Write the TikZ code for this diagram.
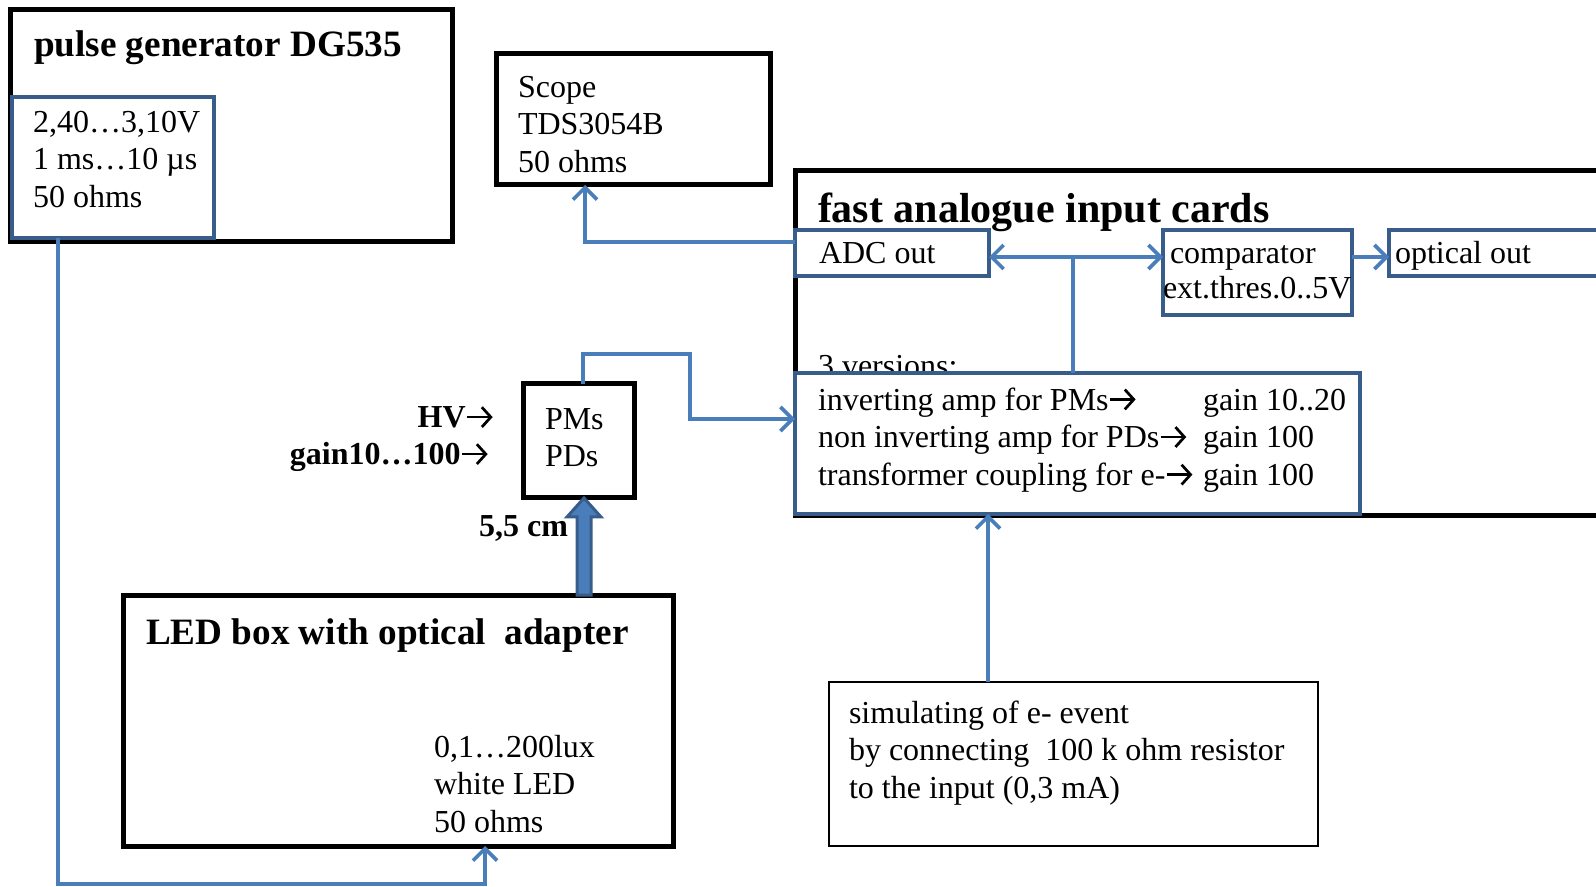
\documentclass[tikz,border=0pt]{standalone}
\usepackage{fontspec}
\setmainfont{Liberation Serif}
\usetikzlibrary{arrows.meta,calc}
\definecolor{boxblue}{RGB}{56,93,138}
\definecolor{lineblue}{RGB}{74,126,187}
\newcommand\myarr{\tikz[baseline=0pt]\draw[line width=0.085em,line cap=butt,-{Straight Barb[length=0.28em,width=0.62em,line width=0.085em]}] (0.04em,0.34em) -- (0.84em,0.34em);}
\tikzset{
  barb/.tip={Straight Barb[length=6pt,width=12pt]},
  blk/.style={draw=black,line width=2.5pt,fill=white,inner sep=0pt,outer sep=0pt,anchor=north west},
  bbox/.style={draw=boxblue,line width=2pt,fill=white,inner sep=0pt,outer sep=0pt,anchor=north west},
  thinbox/.style={draw=black,line width=1pt,fill=white,inner sep=0pt,outer sep=0pt,anchor=north west},
  conn/.style={draw=lineblue,line width=1.8pt},
  body/.style={inner sep=0pt,outer sep=0pt,font=\fontsize{16}{18.8}\selectfont,align=left,anchor=north west},
  oneline/.style={inner sep=0pt,outer sep=0pt,font=\fontsize{16}{18.8}\selectfont,anchor=base west},
  lbl/.style={inner sep=0pt,outer sep=0pt,font=\bfseries\fontsize{16}{18.8}\selectfont,anchor=base east},
  ttl/.style={inner sep=0pt,outer sep=0pt,font=\bfseries\fontsize{18.6}{22}\selectfont,anchor=base west},
  bigttl/.style={inner sep=0pt,outer sep=0pt,font=\bfseries\fontsize{21}{25}\selectfont,anchor=base west}
}
\begin{document}
\begin{tikzpicture}[x=0.5pt,y=-0.5pt]
\useasboundingbox (0,0) rectangle (1596,887);
\clip (0,0) rectangle (1596,887);

% pulse generator
\node[blk,minimum width=221pt,minimum height=116pt] (pg) at (10,10) {};
\node[ttl] (pgT) at (34,57) {pulse generator DG535};
\node[bbox,minimum width=101pt,minimum height=70.5pt] (pgin) at (12,97) {};
\node[body] (pgtx) at (33,106) {\strut 2,40…3,10V\\1 ms…10 µs\\50 ohms};

% scope
\node[blk,minimum width=137pt,minimum height=65.5pt] (scope) at (496,54) {};
\node[body] (scopetx) at (518,71) {\strut Scope\\TDS3054B\\50 ohms};

% fast analogue input cards
\node[blk,minimum width=430pt,minimum height=172.5pt] (fac) at (795,171) {};
\node[bigttl] (facT) at (818,223) {fast analogue input cards};
\node[bbox,minimum width=97pt,minimum height=23pt] (adc) at (795,230) {};
\node[oneline] (adctx) at (819,264) {ADC out};
\node[bbox,minimum width=94.5pt,minimum height=42.5pt] (comp) at (1163,230) {};
\node[oneline] (comptxa) at (1170,264) {comparator};
\node[oneline] (comptxb) at (1163,299) {ext.thres.0..5V};
\node[bbox,minimum width=130pt,minimum height=23pt] (opt) at (1389,230) {};
\node[oneline] (opttx) at (1395,264) {optical out};
\node[oneline] (ver) at (818,377) {3 versions:};
\node[bbox,minimum width=282.5pt,minimum height=70.5pt] (amp) at (795,373) {};
\node[body] (amptx) at (818,384) {\strut inverting amp for PMs\myarr\\non inverting amp for PDs\myarr\\transformer coupling for e-\myarr};
\node[body] (gaintx) at (1203,384) {\strut gain 10..20\\gain 100\\gain 100};

% PMs / PDs
\node[blk,minimum width=55.5pt,minimum height=57pt] (pm) at (523,384) {};
\node[body] (pmtx) at (545,403) {\strut PMs\\PDs};
\node[lbl] (hv) at (494,428) {HV\myarr};
\node[lbl] (gn) at (489,465) {gain10…100\myarr};
\node[lbl] (cm) at (568,537) {5,5 cm};

% LED box
\node[blk,minimum width=275pt,minimum height=125.5pt] (led) at (123,595) {};
\node[ttl] (ledT) at (146,644) {LED box with optical\ \ adapter};
\node[body] (ledtx) at (434,731) {\strut 0,1…200lux\\white LED\\50 ohms};

% simulation box
\node[thinbox,minimum width=244.5pt,minimum height=82pt] (sim) at (829,682) {};
\node[body] (simtx) at (849,697) {\strut simulating of e- event\\by connecting\ \ 100 k ohm resistor\\to the input (0,3 mA)};

% connectors
\coordinate (s1) at (585,242);
\draw[conn,-barb] (adc.west |- s1) -| (scope.south -| s1);

\coordinate (j) at (1073,257);
\draw[conn,barb-barb] (adc.east |- j) -- (comp.west |- j);
\draw[conn] (j) -- (amp.north -| j);
\draw[conn,-barb] (comp.east |- j) -- (opt.west |- j);

\coordinate (p1) at (583,354);
\coordinate (p2) at (690,419);
\draw[conn,-barb] (pm.north -| p1) -- (p1) -| (p2) -- (amp.west |- p2);

\coordinate (q) at (58,0);
\coordinate (r) at (485,884);
\draw[conn,-barb] (pgin.south -| q) |- (r) -- (led.south -| r);

\coordinate (s) at (988,0);
\draw[conn,-barb] (sim.north -| s) -- (amp.south -| s);

% thick optical arrow
\coordinate (t1) at (584,595);
\filldraw[fill=lineblue,draw=boxblue,line width=1.5pt,line join=miter]
  ($(t1)+(-7,0)$) -- ($(t1)+(-7,-78)$) -- ($(t1)+(-17,-78)$) -- (pm.south -| t1)
  -- ($(t1)+(17,-78)$) -- ($(t1)+(7,-78)$) -- ($(t1)+(7,0)$) -- cycle;
\end{tikzpicture}
\end{document}
